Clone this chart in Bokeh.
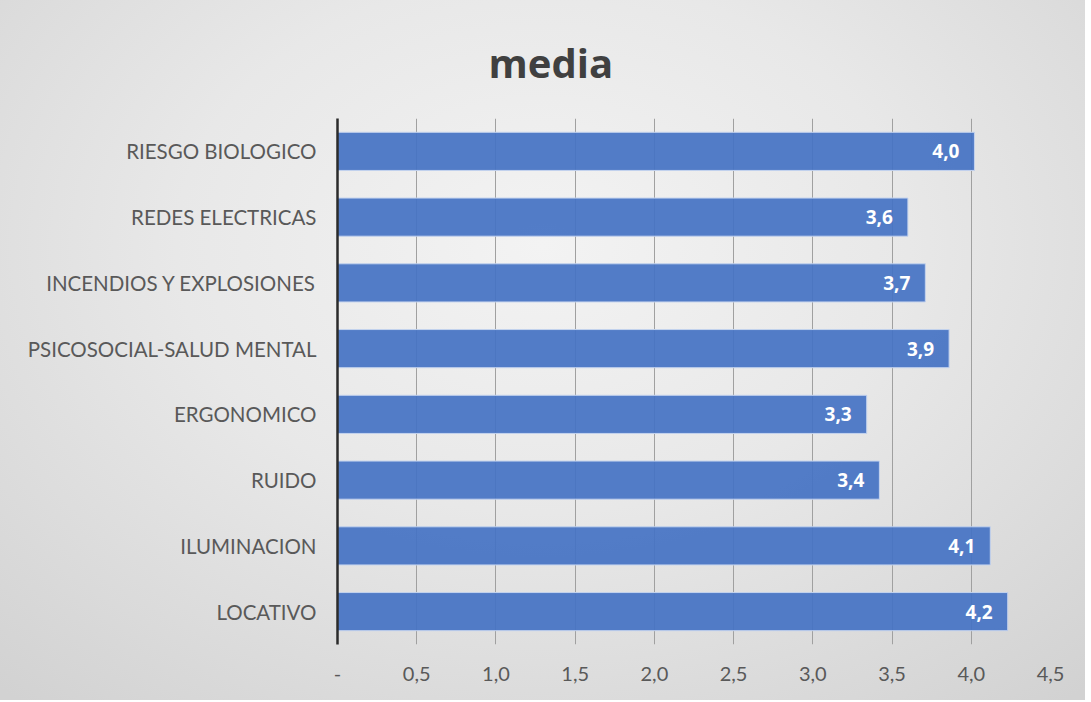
from bokeh.plotting import figure
from bokeh.models import ColumnDataSource, FixedTicker, LabelSet
from bokeh.core.properties import value
from bokeh.embed import file_html
from bokeh.resources import INLINE

categories = ["RIESGO BIOLOGICO", "REDES ELECTRICAS", "INCENDIOS Y EXPLOSIONES",
              "PSICOSOCIAL-SALUD MENTAL", "ERGONOMICO", "RUIDO", "ILUMINACION", "LOCATIVO"]
values = [4.02, 3.60, 3.71, 3.86, 3.34, 3.42, 4.12, 4.23]
value_labels = ["4,0", "3,6", "3,7", "3,9", "3,3", "3,4", "4,1", "4,2"]
tick_values = [0, 0.5, 1, 1.5, 2, 2.5, 3, 3.5, 4, 4.5]
tick_labels = ["-", "0,5", "1,0", "1,5", "2,0", "2,5", "3,0", "3,5", "4,0", "4,5"]
title_text = "media"

FONT = "Lato"
BOLD = "Open Sans"

src = ColumnDataSource(dict(cat=categories, val=values, lab=value_labels))

p = figure(width=1085, height=700, y_range=list(reversed(categories)), x_range=(0, 4.5),
           output_backend="svg", toolbar_location=None,
           min_border_left=337, min_border_right=35, min_border_top=118, min_border_bottom=56)

p.background_fill_alpha = 0
p.border_fill_alpha = 0
p.outline_line_color = None
p.styles = {"background": "radial-gradient(ellipse 75% 85% at 50% 35%, #f3f3f3 0%, #e8e8e8 45%, #d2d2d2 100%)"}

p.title.text = title_text
p.title.align = "left"
p.title.offset = 151
p.title.standoff = 57
p.title.text_font = BOLD
p.title.text_font_style = "bold"
p.title.text_font_size = "40px"
p.title.text_color = "#404040"

p.hbar(y="cat", right="val", left=0, height=0.58, source=src,
       fill_color="#4673c4", fill_alpha=0.93, line_color="#c4d3ee", line_width=1)

labels = LabelSet(x="val", y="cat", text="lab", source=src, x_offset=-15,
                  text_align="right", text_baseline="middle", text_color="white",
                  text_font=value(BOLD), text_font_style="bold", text_font_size="19px")
p.add_layout(labels)

p.xgrid.ticker = FixedTicker(ticks=tick_values)
p.xgrid.grid_line_color = "#a0a0a0"
p.xgrid.grid_line_width = 1
p.ygrid.grid_line_color = None

p.xaxis.ticker = FixedTicker(ticks=tick_values)
p.xaxis.major_label_overrides = {t: l for t, l in zip(tick_values, tick_labels)}
p.xaxis.axis_line_color = None
p.xaxis.major_tick_line_color = None
p.xaxis.minor_tick_line_color = None
p.xaxis.major_tick_out = 0
p.xaxis.major_label_standoff = 22
p.xaxis.major_label_text_font = FONT
p.xaxis.major_label_text_font_size = "20px"
p.xaxis.major_label_text_color = "#595959"

p.yaxis.axis_line_color = "#2b2b2b"
p.yaxis.axis_line_width = 2.5
p.yaxis.major_tick_line_color = None
p.yaxis.minor_tick_line_color = None
p.yaxis.major_tick_out = 0
p.yaxis.major_label_standoff = 21
p.yaxis.major_label_text_font = FONT
p.yaxis.major_label_text_font_size = "20.5px"
p.yaxis.major_label_text_color = "#595959"

open("out.html", "w").write(file_html(p, INLINE))
